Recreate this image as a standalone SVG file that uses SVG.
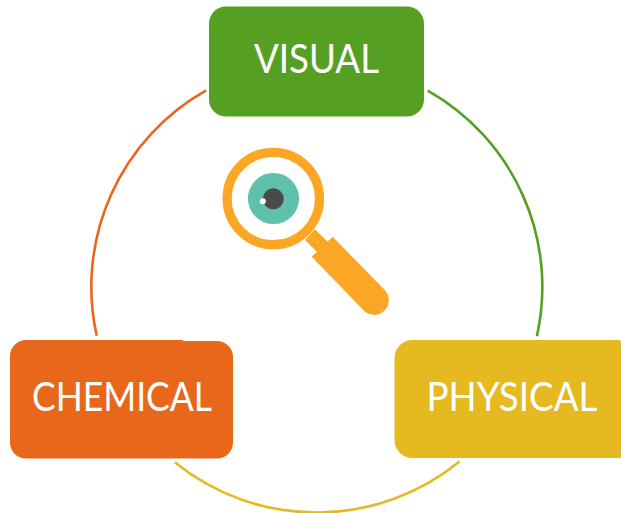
<svg xmlns="http://www.w3.org/2000/svg" width="621" height="513" viewBox="0 0 621 513">
<style>
.arc{fill:none;stroke-width:2.6;stroke-linecap:butt}
.lbl{font-family:"Lato","Open Sans",sans-serif;font-size:40px;fill:#fff;text-anchor:middle}
</style>
<rect width="621" height="513" fill="#fff"/>
<g id="connectors">
<path class="arc" stroke="#e8671a" d="M206.200 90.400A225.500 225.500 0 0 0 96.700 335.800"/>
<path class="arc" stroke="#55a022" d="M427.700 90.600A225.500 225.500 0 0 1 536.900 336.200"/>
<path class="arc" stroke="#e5b91f" d="M174.800 462.200A225.500 225.500 0 0 0 459.500 461.600"/>
</g>
<g id="visual">
<rect x="209" y="6.500" width="215" height="110" rx="17" fill="#55a022"/>
<text class="lbl" x="316.500" y="73" textLength="125" lengthAdjust="spacingAndGlyphs">VISUAL</text>
</g>
<g id="chemical">
<path d="M26 340H183V341H217A16 16 0 0 1 233 357V442A16 16 0 0 1 217 458.500H26A16 16 0 0 1 10 442V356A16 16 0 0 1 26 340Z" fill="#e8671a"/>
<text class="lbl" x="122" y="411" textLength="180" lengthAdjust="spacingAndGlyphs">CHEMICAL</text>
</g>
<g id="physical">
<rect x="394.500" y="340" width="240" height="118" rx="18" fill="#e5b91f"/>
<text class="lbl" x="512" y="411" textLength="171" lengthAdjust="spacingAndGlyphs">PHYSICAL</text>
</g>
<g id="magnifier">
<path d="M315 229.300L330 244L320 255L305 240Z" fill="#fba625"/>
<path d="M332.700 236.700L311.700 256.700L364.500 311.300A14.700 14.700 0 0 0 385 290.300Z" fill="#fba625"/>
<circle cx="273.300" cy="198.500" r="46.200" fill="#fff" stroke="#fba625" stroke-width="9.200"/>
<circle cx="273.500" cy="198.500" r="25.600" fill="#5fc1ac"/>
<circle cx="273.300" cy="198.800" r="10.500" fill="#4a4a4a"/>
<circle cx="262.800" cy="201.200" r="3" fill="#fff"/>
</g>
</svg>
